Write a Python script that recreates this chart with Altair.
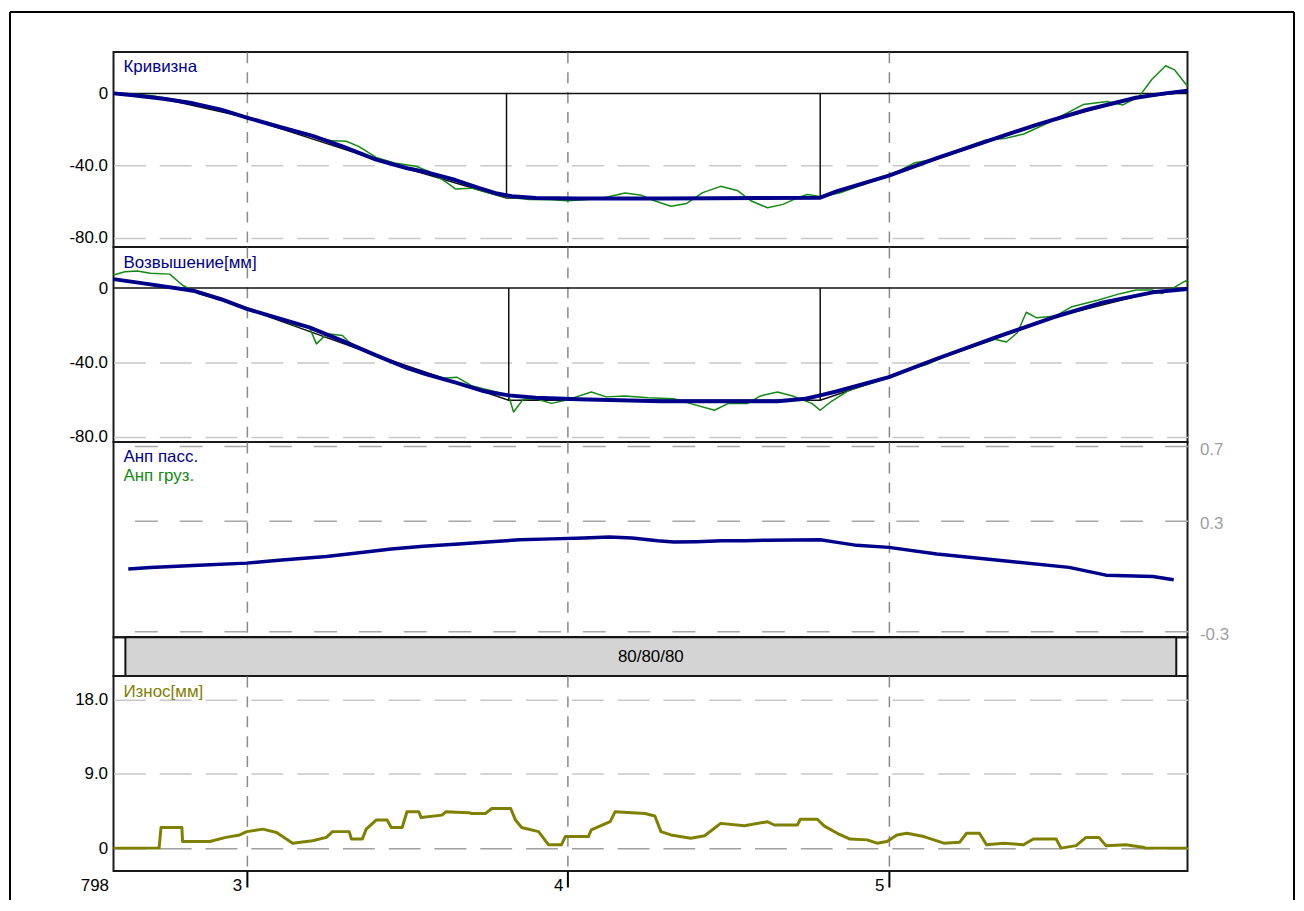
import altair as alt
import pandas as pd

FONT = "Liberation Sans"
NAVY = "#00008b"
GREEN = "#138a13"
OLIVE = "#808000"
BLACK = "#111111"
GRID_LIGHT = "#c8c8c8"
GRID_MID = "#a0a0a0"
VGRID = "#8a8a8a"

PLOT_W = 1079
PANEL_H = 196
BAR_H = 39
FS = 17

# ---------------- data ----------------
x_domain = [2.585, 5.930]
x_grid_values = [3, 4, 5]
x_label_values = [2.585, 3, 4, 5]
x_first_label = "798"

panel_titles = ["Кривизна", "Возвышение[мм]", "Анп пасс.", "Анп груз.", "Износ[мм]"]

# Panel 1: curvature
curv_x = [2.585, 2.647, 2.740, 2.833, 2.920, 3.000, 3.100, 3.205, 3.300, 3.403, 3.500, 3.567, 3.650,
          3.722, 3.780, 3.825, 3.900, 4.033, 4.300, 4.600, 4.786, 4.839, 5.000, 5.149, 5.304, 5.459,
          5.614, 5.769, 5.860, 5.930]
curv_avg = [0, -1, -3, -5.5, -9, -13.4, -18.5, -23.5, -29.5, -36.7, -41.5, -44, -48,
            -52.4, -55.5, -57, -58, -58.3, -58.2, -58, -57.8, -54.2, -45.6, -35.9, -26.6, -17.4,
            -9.2, -2.4, 0, 1.5]
curv_raw_x = [2.585, 2.620, 2.700, 2.780, 2.850, 2.930, 3.000, 3.080, 3.150, 3.220, 3.267, 3.310, 3.350,
              3.403, 3.460, 3.527, 3.570, 3.620, 3.651, 3.700, 3.760, 3.810, 3.880, 3.950, 4.000, 4.060,
              4.120, 4.178, 4.230, 4.270, 4.321, 4.370, 4.420, 4.476, 4.530, 4.570, 4.622, 4.670, 4.720,
              4.746, 4.790, 4.850, 4.930, 5.000, 5.078, 5.150, 5.220, 5.300, 5.366, 5.420, 5.500, 5.605,
              5.680, 5.729, 5.780, 5.820, 5.862, 5.890, 5.930]
curv_raw = [0.5, 0, -1.2, -3.5, -5.8, -9.5, -13, -17.2, -20.8, -24.5, -26.3, -26.5, -29.5,
            -35.5, -38.5, -40.4, -43.5, -49, -53, -52.5, -55.5, -57.5, -58.8, -59, -59.5, -58.8,
            -57.5, -55.2, -56.5, -59.5, -62.5, -61, -55, -51.5, -54, -59.5, -63.4, -61.5, -57.5,
            -56, -57.2, -55, -50, -45.8, -38.6, -36, -31, -26, -24.8, -22.5, -16, -6.2,
            -4.5, -6.4, -1.5, 8, 15.3, 13, 4]
curv_pass_x = [2.585, 2.700, 3.000, 3.403, 3.809, 4.786, 5.000, 5.459, 5.769, 5.930]
curv_pass = [0, -1.5, -13.4, -36.7, -58, -58, -45.6, -17.4, -2.4, 0.8]
curv_bound_x = [3.809, 4.786]
curv_bound_top = [0, 0]
curv_bound_bottom = [-58, -58]

# Panel 2: elevation
elev_x = [2.585, 2.700, 2.833, 2.920, 3.000, 3.100, 3.195, 3.300, 3.403, 3.500, 3.563, 3.654, 3.740,
          3.816, 3.900, 4.033, 4.290, 4.653, 4.740, 4.786, 4.839, 5.000, 5.149, 5.335, 5.512, 5.667,
          5.822, 5.930]
elev_avg = [4.8, 2, -1.4, -6, -11.2, -16.3, -21.1, -28.5, -36.2, -43, -46.5, -51, -55.5,
            -57.7, -59, -59.8, -60.9, -60.9, -59.5, -57.7, -55.5, -47.9, -38, -26.4, -15.7, -7.7,
            -2.3, -0.5]
elev_raw_x = [2.585, 2.620, 2.659, 2.700, 2.760, 2.800, 2.850, 2.930, 3.000, 3.050, 3.100, 3.150, 3.195,
              3.217, 3.250, 3.298, 3.330, 3.400, 3.460, 3.550, 3.610, 3.654, 3.700, 3.780, 3.816, 3.831,
              3.860, 3.900, 3.949, 4.000, 4.073, 4.120, 4.178, 4.250, 4.330, 4.380, 4.457, 4.500, 4.560,
              4.600, 4.653, 4.700, 4.760, 4.786, 4.820, 4.880, 4.950, 5.000, 5.060, 5.120, 5.200, 5.270,
              5.330, 5.366, 5.400, 5.428, 5.460, 5.520, 5.570, 5.650, 5.720, 5.770, 5.820, 5.850, 5.890,
              5.924, 5.930]
elev_raw = [7, 8.8, 9.2, 8, 7.5, 1.5, -3, -6.5, -10.5, -14, -16, -20, -21,
            -30, -24.5, -25.5, -31, -36, -40, -46.5, -48.5, -47.9, -52.5, -56, -58, -66.6,
            -60, -59.5, -62, -60, -55.9, -58.5, -58, -59, -59.5, -62, -65.7, -62, -62,
            -58, -55.9, -58, -62, -65.7, -61, -54.5, -51, -48, -44, -41, -35, -31,
            -27.5, -29, -24, -13, -16, -15, -10, -6.5, -3, -1, -1, -3, 0.5,
            3.9, 3]
elev_pass_x = [2.585, 2.833, 3.000, 3.403, 3.816, 4.786, 5.000, 5.512, 5.822, 5.930]
elev_pass = [4.8, -1.4, -11.2, -36.2, -60.3, -60.3, -47.9, -15.7, -2.3, 0]
elev_bound_x = [3.816, 4.786]
elev_bound_top = [0, 0]
elev_bound_bottom = [-60.3, -60.3]

# Panel 3: unbalanced acceleration (passenger)
anp_x = [2.631, 2.700, 2.850, 3.000, 3.100, 3.248, 3.350, 3.450, 3.550, 3.660, 3.760, 3.850, 3.950,
         4.050, 4.130, 4.200, 4.280, 4.330, 4.400, 4.480, 4.550, 4.620, 4.700, 4.786, 4.839, 4.900,
         5.000, 5.149, 5.357, 5.561, 5.676, 5.822, 5.887]
anp_pass = [0.037, 0.045, 0.058, 0.069, 0.085, 0.105, 0.125, 0.145, 0.160, 0.172, 0.185, 0.195, 0.200,
            0.205, 0.210, 0.205, 0.190, 0.183, 0.185, 0.190, 0.190, 0.193, 0.194, 0.195, 0.181, 0.165,
            0.154, 0.118, 0.082, 0.046, 0.004, -0.003, -0.021]

# Section bar
section_start = [2.622]
section_end = [5.895]
section_label = ["80/80/80"]

# Panel 5: wear
wear_x = [2.585, 2.727, 2.733, 2.798, 2.800, 2.885, 2.935, 2.978, 3.000, 3.050,
          3.093, 3.143, 3.205, 3.248, 3.267, 3.319, 3.326, 3.360, 3.372, 3.403,
          3.437, 3.450, 3.484, 3.499, 3.536, 3.543, 3.608, 3.620, 3.691, 3.701,
          3.744, 3.763, 3.822, 3.837, 3.856, 3.909, 3.940, 3.980, 3.992, 4.064,
          4.073, 4.132, 4.147, 4.240, 4.271, 4.290, 4.321, 4.383, 4.426, 4.476,
          4.550, 4.622, 4.643, 4.715, 4.724, 4.777, 4.798, 4.839, 4.879, 4.932,
          4.963, 4.994, 5.025, 5.056, 5.109, 5.171, 5.220, 5.242, 5.282, 5.304,
          5.357, 5.419, 5.450, 5.521, 5.536, 5.583, 5.614, 5.654, 5.676, 5.738,
          5.791, 5.800, 5.930]
wear = [0, 0, 2.5, 2.5, 0.8, 0.8, 1.3, 1.6, 2.0, 2.3,
        1.9, 0.6, 0.9, 1.3, 2.0, 2.0, 1.1, 1.1, 2.3, 3.4,
        3.4, 2.5, 2.5, 4.4, 4.4, 3.7, 4.0, 4.4, 4.3, 4.2,
        4.2, 4.8, 4.8, 3.4, 2.5, 2.0, 0.4, 0.4, 1.4, 1.4,
        2.2, 3.2, 4.4, 4.2, 3.9, 2.0, 1.6, 1.2, 1.5, 3.0,
        2.7, 3.2, 2.8, 2.8, 3.5, 3.5, 2.7, 1.8, 1.1, 1.0,
        0.6, 0.8, 1.6, 1.8, 1.4, 0.6, 0.7, 1.8, 1.8, 0.4,
        0.6, 0.4, 1.1, 1.1, 0, 0.3, 1.3, 1.3, 0.3, 0.4,
        0.1, 0, 0]

# ---------------- helpers ----------------
LABEL_1F = "datum.value == 0 ? '0' : (datum.value < 0 ? '-' : '') + format(abs(datum.value), '.1f')"


def xs():
    return alt.Scale(domain=x_domain, nice=False, zero=False)


def grid_x():
    return alt.Axis(values=x_grid_values, grid=True, gridColor=VGRID, gridDash=[11, 9],
                    gridWidth=1.5, labels=False, ticks=False, domain=False, title=None)


def left_axis(values, grid_color, dash):
    return alt.Axis(values=values, orient="left", grid=True, gridColor=grid_color,
                    gridDash=dash, gridWidth=1.5, ticks=False, domain=False, title=None,
                    labelPadding=6, labelFont=FONT, labelFontSize=FS, labelColor="black",
                    labelExpr=LABEL_1F)


def line(xv, yv, color, width, yscale, ax_x, ax_y):
    df = pd.DataFrame({"x": xv, "y": yv})
    return alt.Chart(df).mark_line(color=color, strokeWidth=width, strokeJoin="round").encode(
        x=alt.X("x:Q", scale=xs(), axis=ax_x),
        y=alt.Y("y:Q", scale=yscale, axis=ax_y),
    )


def zero_rule(yscale, ax_y):
    return alt.Chart(pd.DataFrame({"y": [0]})).mark_rule(color=BLACK, strokeWidth=1.5).encode(
        y=alt.Y("y:Q", scale=yscale, axis=ax_y))


def bound_rules(bx, top, bottom, yscale, ax_x, ax_y):
    df = pd.DataFrame({"x": bx, "y": top, "bottom": bottom})
    return alt.Chart(df).mark_rule(color=BLACK, strokeWidth=1.5).encode(
        x=alt.X("x:Q", scale=xs(), axis=ax_x),
        y=alt.Y("y:Q", scale=yscale, axis=ax_y),
        y2="bottom:Q",
    )


def title_text(t, color, ypos):
    return alt.Chart(pd.DataFrame({"t": [t]})).mark_text(
        align="left", baseline="middle", font=FONT, fontSize=FS, color=color
    ).encode(x=alt.value(10), y=alt.value(ypos), text="t:N")


dummy = pd.DataFrame({"a": [0]})
frame_top = alt.Chart(dummy).mark_rule(color="black", strokeWidth=2).encode(
    x=alt.value(-104), x2=alt.value(1186), y=alt.value(-40))
frame_left = alt.Chart(dummy).mark_rule(color="black", strokeWidth=2).encode(
    x=alt.value(-104), y=alt.value(-40), y2=alt.value(852))
frame_right = alt.Chart(dummy).mark_rule(color="black", strokeWidth=2).encode(
    x=alt.value(1186), y=alt.value(-40), y2=alt.value(852))

# ---------------- panel 1 ----------------
ys1 = alt.Scale(domain=[-85.1, 23.0], nice=False, zero=False)
ax1 = left_axis([-80, -40, 0],
                {"condition": {"test": "datum.value == 0", "value": "transparent"}, "value": GRID_LIGHT},
                [32, 14])
gx1 = grid_x()
p1 = alt.layer(
    line(curv_pass_x, curv_pass, BLACK, 1.5, ys1, gx1, ax1),
    zero_rule(ys1, ax1),
    bound_rules(curv_bound_x, curv_bound_top, curv_bound_bottom, ys1, gx1, ax1),
    line(curv_raw_x, curv_raw, GREEN, 1.5, ys1, gx1, ax1),
    line(curv_x, curv_avg, NAVY, 4, ys1, gx1, ax1),
    title_text(panel_titles[0], NAVY, 15),
    frame_top, frame_left, frame_right,
).properties(width=PLOT_W, height=PANEL_H)

# ---------------- panel 2 ----------------
ys2 = alt.Scale(domain=[-82.8, 22.1], nice=False, zero=False)
ax2 = left_axis([-80, -40, 0],
                {"condition": {"test": "datum.value == 0", "value": "transparent"}, "value": GRID_LIGHT},
                [32, 14])
gx2 = grid_x()
p2 = alt.layer(
    line(elev_pass_x, elev_pass, BLACK, 1.5, ys2, gx2, ax2),
    zero_rule(ys2, ax2),
    bound_rules(elev_bound_x, elev_bound_top, elev_bound_bottom, ys2, gx2, ax2),
    line(elev_raw_x, elev_raw, GREEN, 1.5, ys2, gx2, ax2),
    line(elev_x, elev_avg, NAVY, 4, ys2, gx2, ax2),
    title_text(panel_titles[1], NAVY, 16),
).properties(width=PLOT_W, height=PANEL_H)

# ---------------- panel 3 ----------------
ys3 = alt.Scale(domain=[-0.331, 0.723], nice=False, zero=False)
ax3 = alt.Axis(values=[-0.3, 0.3, 0.7], orient="right", grid=True, gridColor="#a8a8a8",
               gridDash=[23, 22], gridWidth=1.5, ticks=False, domain=False, title=None,
               labelPadding=12, labelFont=FONT, labelFontSize=FS, labelColor="#a0a0a0",
               labelOffset=3, labelExpr=LABEL_1F)
p3 = alt.layer(
    line(anp_x, anp_pass, NAVY, 3.5, ys3, grid_x(), ax3),
    title_text(panel_titles[2], NAVY, 15),
    title_text(panel_titles[3], GREEN, 34),
).properties(width=PLOT_W, height=PANEL_H)

# ---------------- section bar ----------------
df_sec = pd.DataFrame({"start": section_start, "end": section_end, "label": section_label})
bar_rect = alt.Chart(df_sec).mark_rect(fill="#d4d4d4", stroke=BLACK, strokeWidth=2).encode(
    x=alt.X("start:Q", scale=xs(), axis=None), x2="end:Q",
    y=alt.value(0), y2=alt.value(BAR_H))
bar_text = alt.Chart(df_sec).transform_calculate(
    mid="(datum.start + datum.end) / 2"
).mark_text(font=FONT, fontSize=FS, color="black", baseline="middle").encode(
    x=alt.X("mid:Q", scale=xs(), axis=None), y=alt.value(BAR_H / 2), text="label:N")
p4 = alt.layer(bar_rect, bar_text).properties(width=PLOT_W, height=BAR_H)

# ---------------- panel 5 ----------------
ys5 = alt.Scale(domain=[-2.78, 20.86], nice=False, zero=False)
ax5y = left_axis([0, 9, 18],
                 {"condition": {"test": "datum.value == 0", "value": GRID_MID}, "value": GRID_LIGHT},
                 [32, 14])
ax5x = alt.Axis(
    values=x_label_values, grid=True,
    gridColor={"condition": {"test": "datum.value < 2.9", "value": "transparent"}, "value": VGRID},
    gridDash=[11, 9], gridWidth=1.5, domain=False, title=None,
    ticks=True, tickSize=16, tickWidth=2,
    tickColor={"condition": {"test": "datum.value < 2.9", "value": "transparent"}, "value": "black"},
    labelExpr="datum.value < 2.9 ? '" + x_first_label + "' : format(datum.value, 'd')",
    labelAlign="right", labelBaseline="top", labelOffset=-5, labelPadding=-9,
    labelFlush=False, labelOverlap=False,
    labelFont=FONT, labelFontSize=FS, labelColor="black",
)
p5 = alt.layer(
    line(wear_x, wear, OLIVE, 3, ys5, ax5x, ax5y),
    title_text(panel_titles[4], OLIVE, 16),
).properties(width=PLOT_W, height=PANEL_H)

chart = alt.vconcat(p1, p2, p3, p4, p5, spacing=0, bounds="flush").properties(
    padding={"left": 0, "top": 0, "right": 0, "bottom": 0}
).configure_view(stroke="#1a1a1a", strokeWidth=2)

chart.save("out.html", embed_options={"renderer": "svg", "actions": False})
